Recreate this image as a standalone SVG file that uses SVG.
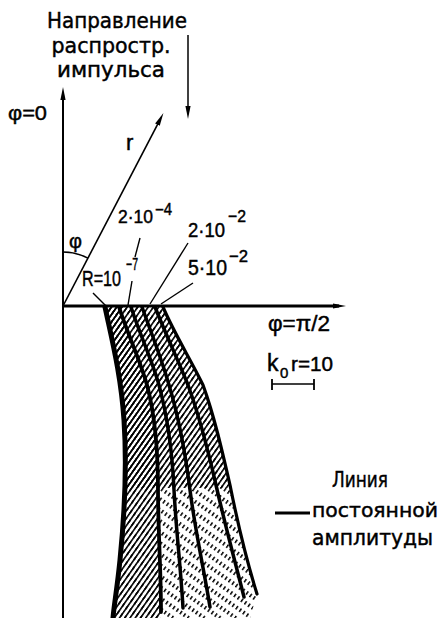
<svg xmlns="http://www.w3.org/2000/svg" width="444" height="618" viewBox="0 0 444 618">
<style>
.t{font-family:"DejaVu Sans","Liberation Sans",sans-serif;fill:#000;stroke:#000;stroke-width:0.45}
.n{font-family:"Liberation Sans",Arial,sans-serif;fill:#000;stroke:#000;stroke-width:0.45}
.ax{stroke:#000;fill:none}
.ld{stroke:#000;stroke-width:1.4;fill:none}
.cv{stroke:#000;fill:none;stroke-linecap:round}
</style>
<defs>
<marker id="ah" viewBox="0 0 13 6" refX="6" refY="3" markerWidth="13" markerHeight="6" markerUnits="userSpaceOnUse" orient="auto">
<path d="M0,0.4 L13,3 L0,5.6 Z" fill="#000"/>
</marker>
<pattern id="hatch" patternUnits="userSpaceOnUse" width="4.3" height="10" patternTransform="rotate(35)">
<rect x="0" y="0" width="1.6" height="10" fill="#000"/>
</pattern>
<pattern id="hatchB" patternUnits="userSpaceOnUse" width="4.3" height="9" patternTransform="rotate(35)">
<rect x="0" y="0" width="1.5" height="4" fill="#000"/>
</pattern>
<clipPath id="top"><rect x="0" y="300" width="444" height="188"/></clipPath>
<path id="region" d="M105,307 C112,340 121,375 124,420 C127,465 124,520 120,560 C117,590 114,605 113,618 L250,618 L257,594 C248,565 238,525 230,485 C222,450 214,415 203,385 C191,360 175,335 163,307 Z"/>
</defs>

<g id="hatching">
<use href="#region" fill="url(#hatchB)"/>
<g clip-path="url(#top)"><use href="#region" fill="url(#hatch)"/></g>
<path d="M105,307 C112,340 121,375 124,420 C127,465 124,520 120,560 C117,590 114,605 113,618 L160,618 L161,612 C161,570 158,530 158,490 C158,450 155,415 147,385 C140,360 128,335 119,307 Z" fill="url(#hatch)"/>
</g>

<g id="curves">
<path class="cv" stroke-width="5" d="M105,307 C112,340 121,375 124,420 C127,465 124,520 120,560 C117,590 114,605 113,618"/>
<path class="cv" stroke-width="3.8" d="M119,307 C128,335 140,360 147,385 C155,415 158,450 158,490 C158,530 161,570 161,612"/>
<path class="cv" stroke-width="3.5" d="M131,307 C140,335 152,360 159,385 C167,415 172,445 174,490 C176,530 181,570 183,608"/>
<path class="cv" stroke-width="3.5" d="M142,307 C152,335 162,360 169,385 C178,415 185,450 190,490 C195,530 204,570 210,607"/>
<path class="cv" stroke-width="3.5" d="M155,307 C166,335 178,360 188,385 C199,415 208,450 216,485 C225,525 236,565 244,597"/>
<path class="cv" stroke-width="3.2" d="M163,307 C175,335 191,360 203,385 C214,415 222,450 230,485 C238,525 248,565 257,594"/>
</g>

<g id="axes">
<line class="ax" x1="63" y1="618" x2="63" y2="94" stroke-width="2" marker-end="url(#ah)"/>
<line class="ax" x1="62" y1="306" x2="339" y2="306" stroke-width="3" marker-end="url(#ah)"/>
<line class="ax" x1="63" y1="306" x2="160.2" y2="119.3" stroke-width="1.6" marker-end="url(#ah)"/>
<path class="ax" d="M63,252 A54,54 0 0 1 87.9,258.1" stroke-width="1.4"/>
<line class="ax" x1="188" y1="35" x2="188" y2="112" stroke-width="1.5" marker-end="url(#ah)"/>
</g>

<g id="leaders">
<line class="ld" x1="93" y1="293" x2="105" y2="305"/>
<line class="ld" x1="140" y1="238" x2="135" y2="257"/>
<line class="ld" x1="132" y1="281" x2="128" y2="305"/>
<line class="ld" x1="188" y1="243" x2="150" y2="304"/>
<line class="ld" x1="193" y1="283" x2="161" y2="304"/>
</g>

<g id="title">
<text class="t" x="117" y="28" font-size="22" text-anchor="middle" textLength="140" lengthAdjust="spacingAndGlyphs">Направление</text>
<text class="t" x="111" y="53" font-size="22" text-anchor="middle" textLength="119" lengthAdjust="spacingAndGlyphs">распростр.</text>
<text class="t" x="111" y="77" font-size="22" text-anchor="middle" textLength="108" lengthAdjust="spacingAndGlyphs">импульса</text>
</g>

<g id="axis-labels">
<text class="n" x="8" y="120" font-size="21" textLength="39" lengthAdjust="spacingAndGlyphs">φ=0</text>
<text class="n" x="126" y="150" font-size="22">r</text>
<text class="n" x="69" y="248" font-size="20">φ</text>
<text class="n" x="268" y="331" font-size="22" textLength="62" lengthAdjust="spacingAndGlyphs">φ=π/2</text>
</g>

<g id="curve-labels">
<text class="n" x="82" y="286" font-size="22" textLength="39" lengthAdjust="spacingAndGlyphs">R=10</text>
<text class="n" x="126" y="270" font-size="17" textLength="12" lengthAdjust="spacingAndGlyphs">−7</text>
<text class="n" x="118" y="223" font-size="19" textLength="35" lengthAdjust="spacingAndGlyphs">2·10</text>
<text class="n" x="155" y="215" font-size="16" textLength="17" lengthAdjust="spacingAndGlyphs">−4</text>
<text class="n" x="188" y="237" font-size="21" textLength="37" lengthAdjust="spacingAndGlyphs">2·10</text>
<text class="n" x="228" y="222" font-size="17" textLength="18" lengthAdjust="spacingAndGlyphs">−2</text>
<text class="n" x="188" y="275" font-size="22" textLength="39" lengthAdjust="spacingAndGlyphs">5·10</text>
<text class="n" x="229" y="262" font-size="17" textLength="19" lengthAdjust="spacingAndGlyphs">−2</text>
</g>

<g id="scale">
<text class="n" x="267" y="371" font-size="23">k</text>
<text class="n" x="280" y="378" font-size="15">0</text>
<text class="n" x="291" y="371" font-size="21" textLength="42" lengthAdjust="spacingAndGlyphs">r=10</text>
<line class="ax" x1="272" y1="384" x2="314" y2="384" stroke-width="1.5"/>
<line class="ax" x1="272" y1="379" x2="272" y2="390" stroke-width="1.8"/>
<line class="ax" x1="314" y1="379" x2="314" y2="390" stroke-width="1.8"/>
</g>

<g id="legend">
<line class="ax" x1="275" y1="513" x2="310" y2="513" stroke-width="3"/>
<text class="t" x="332" y="487" font-size="22" textLength="56" lengthAdjust="spacingAndGlyphs">Линия</text>
<text class="t" x="312" y="517" font-size="20" textLength="126" lengthAdjust="spacingAndGlyphs">постоянной</text>
<text class="t" x="312" y="545" font-size="22" textLength="121" lengthAdjust="spacingAndGlyphs">амплитуды</text>
</g>
</svg>
